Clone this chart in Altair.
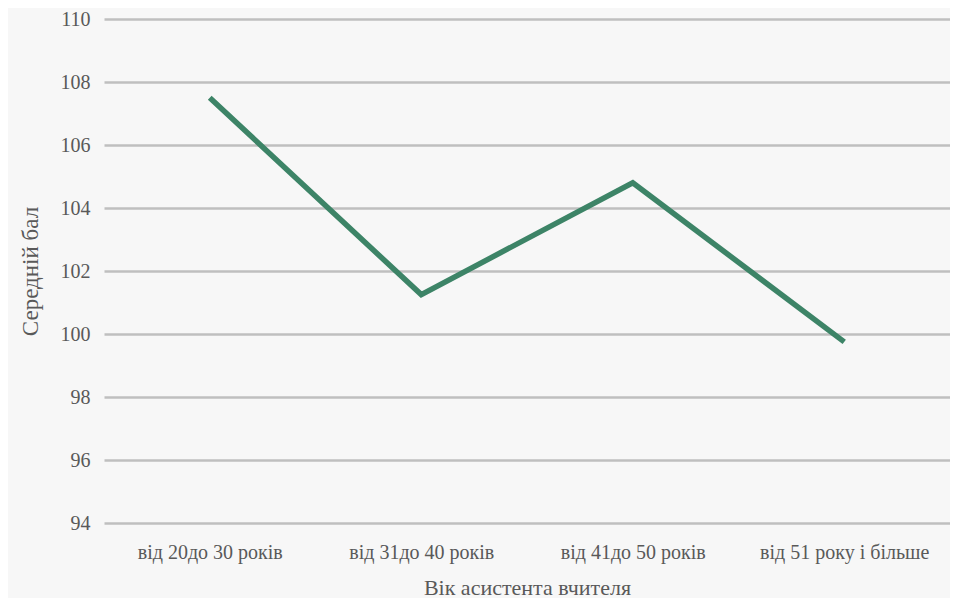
import altair as alt
import pandas as pd

categories = ["від 20до 30 років", "від 31до 40 років", "від 41до 50 років", "від 51 року і більше"]
values = [107.5, 101.25, 104.8, 99.75]
y_ticks = [94, 96, 98, 100, 102, 104, 106, 108, 110]

df = pd.DataFrame({"cat": categories, "val": values})

FONT = "Liberation Serif"
TXT = "#595959"

chart = alt.Chart(df).mark_line(color="#3d8467", strokeWidth=5.5, strokeCap="butt", strokeJoin="miter").encode(
    x=alt.X("cat:N", sort=categories, scale=alt.Scale(padding=0.5),
            axis=alt.Axis(title="Вік асистента вчителя", labelAngle=0, labelFont=FONT, labelFontSize=20,
                          labelColor=TXT, labelPadding=19, ticks=False, domain=False, grid=False,
                          titleFont=FONT, titleFontSize=22, titleColor=TXT, titleFontWeight="normal",
                          titleX=423, titleY=64, titleBaseline="middle")),
    y=alt.Y("val:Q", scale=alt.Scale(domain=[94, 110], nice=False, zero=False),
            axis=alt.Axis(title="Середній бал", values=y_ticks, labelFont=FONT, labelFontSize=20,
                          labelColor=TXT, labelPadding=14, ticks=False, domain=False,
                          grid=True, gridColor="#bfbfbf", gridWidth=2.5,
                          titleFont=FONT, titleFontSize=23, titleColor=TXT, titleFontWeight="normal",
                          titleX=-74, titleY=252, titleAngle=-90, titleBaseline="middle", titleAlign="center")),
).properties(
    width=846, height=504,
    autosize=alt.AutoSizeParams(type="none"),
    padding={"left": 96, "top": 11, "right": 0, "bottom": 75},
    background="#f7f7f7",
).configure_view(stroke=None)

chart.save("out.html", embed_options={"renderer": "svg", "actions": False})
